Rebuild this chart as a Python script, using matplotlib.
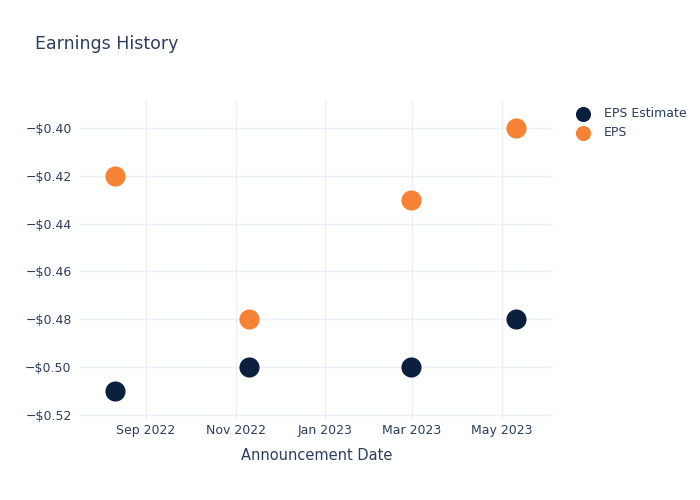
import matplotlib
matplotlib.use("Agg")
import matplotlib.pyplot as plt
import matplotlib.dates as mdates
import numpy as np
from datetime import datetime

# announcement dates and values
dates = [datetime(2022, 8, 11), datetime(2022, 11, 10), datetime(2023, 2, 28), datetime(2023, 5, 11)]
eps_estimate = [-0.51, -0.50, -0.50, -0.48]
eps_actual = [-0.42, -0.48, -0.43, -0.40]

x_ticks = [datetime(2022, 9, 1), datetime(2022, 11, 1), datetime(2023, 1, 1), datetime(2023, 3, 1), datetime(2023, 5, 1)]
x_labels = ["Sep 2022", "Nov 2022", "Jan 2023", "Mar 2023", "May 2023"]
y_ticks = [-0.40, -0.42, -0.44, -0.46, -0.48, -0.50, -0.52]

text_col = "#2a3f5f"
grid_col = "#ebf0f8"

fig = plt.figure(figsize=(7, 5), dpi=100)
ax = fig.add_axes([80 / 700, 0.16, (553 - 80) / 700, 0.64])

ax.scatter(dates, eps_estimate, s=210, color="#0b1f3f", label="EPS Estimate", zorder=3, linewidths=0)
ax.scatter(dates, eps_actual, s=210, color="#f68235", label="EPS", zorder=3, linewidths=0)

ax.set_xlim(datetime(2022, 7, 18), datetime(2023, 6, 5))
ax.set_ylim(-0.5221, -0.3883)
ax.set_xticks(x_ticks)
ax.set_xticklabels(x_labels)
ax.set_yticks(y_ticks)
ax.set_yticklabels(["\u2212$%.2f" % abs(v) for v in y_ticks])

for s in ax.spines.values():
    s.set_visible(False)
ax.grid(True, color=grid_col, linewidth=1)
ax.set_axisbelow(True)
ax.tick_params(length=0, colors=text_col, labelsize=9)
ax.tick_params(axis="y", pad=6)
ax.tick_params(axis="x", pad=3)
ax.set_xlabel("Announcement Date", color=text_col, fontsize=10.5, labelpad=8)

fig.text(35 / 700, 1 - 44 / 500, "Earnings History", color=text_col, fontsize=12.5, va="center")

leg = ax.legend(loc="upper left", bbox_to_anchor=(1.027, 0.993), frameon=False,
                fontsize=9, labelcolor=text_col, handletextpad=0.65, borderaxespad=0,
                labelspacing=0.45, markerscale=0.75)

fig.savefig("out.png", dpi=100)
